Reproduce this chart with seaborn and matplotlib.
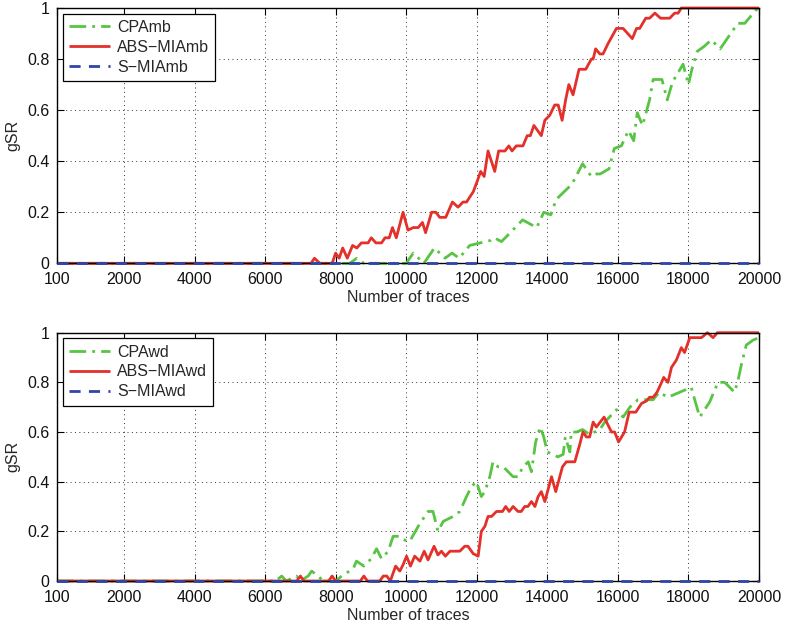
import numpy as np
import pandas as pd
import seaborn as sns
import matplotlib
matplotlib.use("Agg")
import matplotlib.pyplot as plt

# ---- data: (number of traces, gSR) vertices for each curve ----
cpa_mb = [(100, 0), (8400, 0), (8600, 0.02), (8800, 0), (10000, 0), (10200, 0.04), (10500, 0),
          (10800, 0.06), (11100, 0.02), (11300, 0.04), (11500, 0.02), (11800, 0.07), (12100, 0.08),
          (12400, 0.09), (12500, 0.10), (12700, 0.085), (12950, 0.12), (13300, 0.17), (13700, 0.14),
          (13900, 0.20), (14100, 0.19), (14250, 0.25), (14400, 0.27), (14700, 0.31), (15000, 0.39),
          (15250, 0.34), (15400, 0.35), (15500, 0.35), (15750, 0.37), (15900, 0.45), (16100, 0.46),
          (16300, 0.52), (16450, 0.48), (16550, 0.59), (16700, 0.54), (16900, 0.64), (17000, 0.72),
          (17250, 0.72), (17400, 0.64), (17550, 0.71), (17850, 0.78), (18000, 0.70), (18100, 0.76),
          (18250, 0.83), (18450, 0.85), (18650, 0.875), (18900, 0.84), (19150, 0.89), (19400, 0.94),
          (19600, 0.94), (19900, 0.99), (20000, 1.0)]

abs_mia_mb = [(100, 0), (7300, 0), (7400, 0.02), (7550, 0), (7900, 0), (8000, 0.04), (8100, 0.02),
              (8200, 0.06), (8330, 0.02), (8480, 0.07), (8600, 0.06), (8730, 0.08), (8920, 0.08),
              (9010, 0.10), (9140, 0.08), (9300, 0.08), (9400, 0.10), (9520, 0.10), (9610, 0.14),
              (9720, 0.10), (9910, 0.20), (10050, 0.13), (10200, 0.14), (10340, 0.14), (10460, 0.16),
              (10550, 0.12), (10720, 0.20), (10840, 0.20), (10950, 0.18), (11120, 0.18), (11310, 0.24),
              (11470, 0.22), (11610, 0.24), (11710, 0.24), (11900, 0.28), (12010, 0.32), (12110, 0.36),
              (12210, 0.34), (12320, 0.44), (12510, 0.36), (12620, 0.44), (12800, 0.44), (12910, 0.46),
              (13000, 0.44), (13120, 0.46), (13310, 0.46), (13430, 0.50), (13520, 0.50), (13620, 0.54),
              (13830, 0.50), (13930, 0.56), (14070, 0.58), (14210, 0.62), (14310, 0.62), (14420, 0.56),
              (14520, 0.64), (14610, 0.70), (14730, 0.66), (14900, 0.76), (15090, 0.76), (15250, 0.80),
              (15300, 0.80), (15370, 0.84), (15490, 0.82), (15580, 0.82), (15720, 0.86), (15960, 0.92),
              (16150, 0.92), (16410, 0.88), (16530, 0.92), (16620, 0.92), (16790, 0.96), (16900, 0.96),
              (17050, 0.98), (17210, 0.96), (17470, 0.96), (17610, 0.98), (17710, 0.98), (17800, 1.0),
              (20000, 1.0)]

s_mia_mb = [(100, 0), (20000, 0)]

cpa_wd = [(100, 0), (6300, 0), (6470, 0.02), (6600, 0), (6890, 0.02), (7000, 0), (7220, 0.02),
          (7320, 0.04), (7500, 0.02), (7650, 0), (8000, 0), (8170, 0.02), (8500, 0.05), (8590, 0.08),
          (8800, 0.06), (9010, 0.09), (9160, 0.13), (9300, 0.09), (9490, 0.12), (9630, 0.18),
          (9820, 0.18), (10010, 0.16), (10100, 0.16), (10340, 0.22), (10430, 0.24), (10620, 0.28),
          (10760, 0.28), (10900, 0.20), (11050, 0.24), (11330, 0.26), (11520, 0.28), (11710, 0.34),
          (11850, 0.38), (11990, 0.40), (12130, 0.34), (12230, 0.36), (12370, 0.42), (12460, 0.48),
          (12600, 0.46), (12750, 0.46), (12890, 0.44), (13030, 0.42), (13170, 0.42), (13310, 0.46),
          (13460, 0.48), (13550, 0.44), (13670, 0.56), (13800, 0.62), (13900, 0.58), (14000, 0.52),
          (14300, 0.50), (14450, 0.51), (14510, 0.58), (14640, 0.52), (14680, 0.60), (14830, 0.60),
          (15000, 0.61), (15200, 0.59), (15490, 0.61), (15630, 0.64), (15960, 0.69), (16150, 0.66),
          (16340, 0.70), (16570, 0.73), (17000, 0.73), (17170, 0.76), (17420, 0.74), (17750, 0.76),
          (18080, 0.78), (18320, 0.66), (18600, 0.72), (18840, 0.80), (19030, 0.80), (19310, 0.76),
          (19410, 0.81), (19500, 0.87), (19640, 0.95), (19830, 0.97), (20000, 0.98)]

abs_mia_wd = [(100, 0), (6900, 0), (7000, 0.02), (7100, 0), (7800, 0), (7900, 0.02), (8000, 0),
              (8700, 0), (8800, 0.02), (8900, 0), (9250, 0), (9350, 0.02), (9450, 0.02), (9550, 0),
              (9700, 0.06), (9820, 0.04), (9910, 0.065), (10010, 0.10), (10120, 0.06), (10240, 0.10),
              (10390, 0.08), (10510, 0.12), (10620, 0.085), (10790, 0.14), (10900, 0.105), (11000, 0.12),
              (11110, 0.10), (11240, 0.12), (11520, 0.12), (11660, 0.14), (11750, 0.14), (11900, 0.11),
              (12040, 0.10), (12130, 0.20), (12230, 0.22), (12320, 0.26), (12420, 0.26), (12560, 0.28),
              (12730, 0.28), (12820, 0.30), (12920, 0.28), (13030, 0.30), (13170, 0.28), (13260, 0.28),
              (13360, 0.30), (13450, 0.30), (13550, 0.32), (13650, 0.30), (13740, 0.34), (13830, 0.36),
              (13930, 0.32), (14120, 0.42), (14240, 0.36), (14430, 0.46), (14540, 0.48), (14780, 0.48),
              (14920, 0.55), (15010, 0.60), (15110, 0.58), (15200, 0.58), (15300, 0.64), (15390, 0.62),
              (15610, 0.66), (15820, 0.60), (15910, 0.60), (16020, 0.56), (16190, 0.60), (16320, 0.68),
              (16510, 0.68), (16670, 0.715), (16810, 0.725), (16900, 0.74), (17000, 0.74), (17110, 0.76),
              (17240, 0.80), (17300, 0.82), (17420, 0.80), (17520, 0.86), (17660, 0.89), (17800, 0.94),
              (17890, 0.92), (18040, 0.98), (18370, 0.98), (18540, 1.0), (18700, 0.98), (18820, 1.0),
              (20000, 1.0)]

s_mia_wd = [(100, 0), (20000, 0)]

x_ticks = [100, 2000, 4000, 6000, 8000, 10000, 12000, 14000, 16000, 18000, 20000]
y_ticks = [0, 0.2, 0.4, 0.6, 0.8, 1.0]
y_tick_labels = ["0", "0.2", "0.4", "0.6", "0.8", "1"]

panels = [
    [("CPAmb", cpa_mb), ("ABS\u2212MIAmb", abs_mia_mb), ("S\u2212MIAmb", s_mia_mb)],
    [("CPAwd", cpa_wd), ("ABS\u2212MIAwd", abs_mia_wd), ("S\u2212MIAwd", s_mia_wd)],
]

styles = [
    dict(color="#58c443", dashes=(6, 2.2, 1, 2.2), lw=2.0),   # dash-dot green
    dict(color="#e3302a", dashes=(None, None), lw=2.0),        # solid red
    dict(color="#2f45a8", dashes=(4, 3), lw=2.0),              # dashed blue
]

sns.set_theme(style="white")
plt.rcParams["font.family"] = ["Liberation Sans", "DejaVu Sans"]
plt.rcParams["axes.unicode_minus"] = True

fig = plt.figure(figsize=(7.85, 6.25), dpi=100)
ax_top = fig.add_axes([0.0726, 0.5787, 0.8942, 0.4085])
ax_bot = fig.add_axes([0.0726, 0.0704, 0.8942, 0.3973])

fs = 11.5
for ax, series in zip([ax_top, ax_bot], panels):
    for (name, pts), st in zip(series, styles):
        df = pd.DataFrame(pts, columns=["traces", "gSR"])
        sns.lineplot(data=df, x="traces", y="gSR", ax=ax, estimator=None, sort=False,
                     color=st["color"], lw=st["lw"], label=name)
        line = ax.get_lines()[-1]
        if st["dashes"][0] is None:
            line.set_linestyle("-")
        else:
            line.set_dashes(st["dashes"])
        line.set_clip_on(False)
        line.set_solid_capstyle("butt")
        line.set_dash_capstyle("butt")

    ax.set_xlim(100, 20000)
    ax.set_ylim(0, 1)
    ax.set_xticks(x_ticks)
    ax.set_xticklabels([str(t) for t in x_ticks], fontsize=fs)
    ax.set_yticks(y_ticks)
    ax.set_yticklabels(y_tick_labels, fontsize=fs)
    ax.grid(True, color="#333333", linestyle=(0, (1, 3.5)), linewidth=0.7)
    ax.tick_params(direction="in", length=5, width=0.8, top=True, right=True,
                   bottom=True, left=True, color="black", labelcolor="#111111")
    ax.tick_params(axis="x", pad=6.5)
    ax.tick_params(axis="y", pad=5.5)
    for sp in ax.spines.values():
        sp.set_color("black")
        sp.set_linewidth(1.0)
    ax.set_xlabel("Number of traces", fontsize=fs, labelpad=2)
    ax.set_ylabel("gSR", fontsize=fs)
    ax.yaxis.set_label_coords(-0.052, 0.5)

    leg = ax.legend(loc="upper left", fontsize=fs, frameon=True, fancybox=False,
                    edgecolor="black", framealpha=1, borderaxespad=0.35,
                    handlelength=2.6, handletextpad=0.4, labelspacing=0.3,
                    borderpad=0.4)
    leg.get_frame().set_linewidth(0.9)
    # keep the zero-level dashed curve above the others
    ax.get_lines()[2].set_zorder(3)

fig.savefig("out.png", dpi=100)
